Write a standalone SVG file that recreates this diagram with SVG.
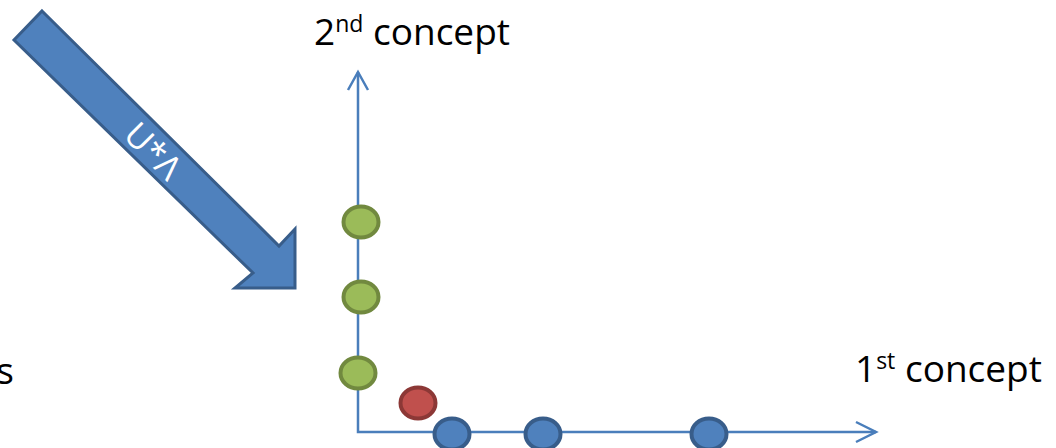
<svg xmlns="http://www.w3.org/2000/svg" width="1056" height="448" viewBox="0 0 1056 448">
  <style>
    .label { font-family: "Open Sans", "Liberation Sans", sans-serif; font-size: 37px; fill: #000; }
    .sup { font-size: 23px; }
    .axis { fill: none; stroke: #4A7EBB; stroke-width: 2.5; }
    .pt { stroke-width: 4; }
    .green { fill: #9BBB59; stroke: #71893F; }
    .red { fill: #C0504D; stroke: #8C3836; }
    .blue { fill: #4F81BD; stroke: #385D8A; }
  </style>

  <!-- projection arrow -->
  <g id="projection-arrow">
    <polygon points="42,11 279,246 295,229 295,288 235,288 253,273 14,40"
             fill="#4F81BD" stroke="#385D8A" stroke-width="3" stroke-linejoin="miter"/>
    <text transform="translate(153,151) rotate(45)" text-anchor="middle" dy="12"
          font-family="'Open Sans', 'Liberation Sans', sans-serif" font-size="34" fill="#FFFFFF">U*Λ</text>
  </g>

  <!-- concept axes -->
  <g id="connectors">
    <polyline class="axis" points="358,72 358,432 876,432"/>
    <polyline class="axis" points="348,90 358,72 368,90"/>
    <polyline class="axis" points="856,422 876,432 856,442"/>
  </g>

  <!-- axis labels -->
  <g id="label-2nd">
    <text class="label" x="314" y="45">2<tspan class="sup" dy="-13">nd</tspan><tspan dy="13"> concept</tspan></text>
  </g>
  <g id="label-1st">
    <text class="label" x="855" y="382">1<tspan class="sup" dy="-13">st</tspan><tspan dy="13"> concept</tspan></text>
  </g>
  <g id="label-left">
    <text class="label" x="14" y="384" text-anchor="end">s</text>
  </g>

  <!-- data points -->
  <g id="point-g1"><ellipse class="pt green" cx="361" cy="222" rx="17.5" ry="15.5"/></g>
  <g id="point-g2"><ellipse class="pt green" cx="361" cy="297" rx="17.5" ry="15.5"/></g>
  <g id="point-g3"><ellipse class="pt green" cx="358" cy="373" rx="17.5" ry="15.5"/></g>
  <g id="point-r1"><ellipse class="pt red" cx="418" cy="403" rx="17.5" ry="15.5"/></g>
  <g id="point-b1"><ellipse class="pt blue" cx="452" cy="434" rx="17.5" ry="15.5"/></g>
  <g id="point-b2"><ellipse class="pt blue" cx="543" cy="434" rx="17.5" ry="15.5"/></g>
  <g id="point-b3"><ellipse class="pt blue" cx="709" cy="434" rx="17.5" ry="15.5"/></g>
</svg>
